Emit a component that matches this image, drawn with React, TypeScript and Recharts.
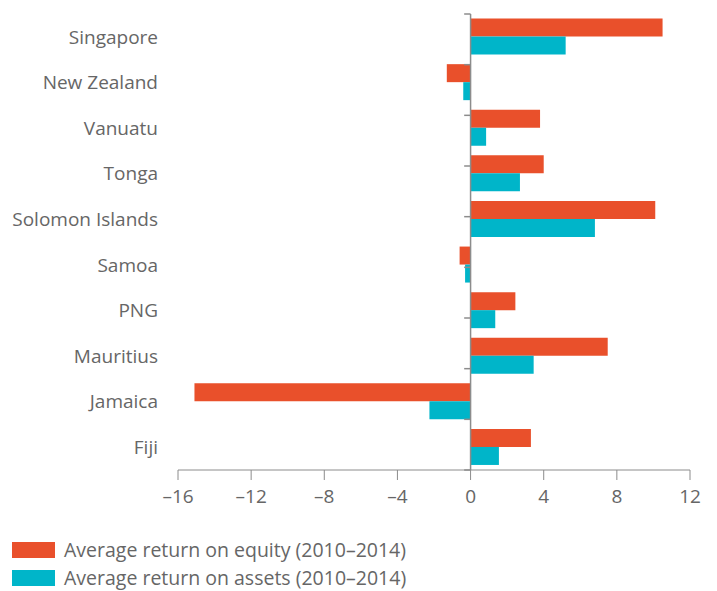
import React from 'react'
import {
  BarChart,
  Bar,
  XAxis,
  YAxis,
  ReferenceLine,
} from 'recharts'

const countries = [
  'Singapore',
  'New Zealand',
  'Vanuatu',
  'Tonga',
  'Solomon Islands',
  'Samoa',
  'PNG',
  'Mauritius',
  'Jamaica',
  'Fiji',
]
const roe = [10.5, -1.3, 3.8, 4.0, 10.1, -0.6, 2.45, 7.5, -15.1, 3.3]
const roa = [5.2, -0.4, 0.85, 2.7, 6.8, -0.3, 1.35, 3.45, -2.25, 1.55]
const xTicks = [-16, -12, -8, -4, 0, 4, 8, 12]

const EQUITY = '#E9502B'
const ASSETS = '#00B5C9'
const TEXT = '#666666'
const AXIS = '#8c8c8c'
const FONT = '"Open Sans", Lato, sans-serif'

const data = countries.map((name, i) => ({ name, roe: roe[i], roa: roa[i] }))
// band boundaries for the little ticks on the zero line
const boundaries = countries.map((_, i) => i).concat([countries.length])

const fmt = (v: number) => (v < 0 ? '\u2013' + Math.abs(v) : String(v))

export default function App() {
  return (
    <div style={{ position: 'absolute', left: 0, top: 0, width: 717, height: 591, background: '#fff', fontFamily: FONT }}>
      <BarChart
        width={717}
        height={520}
        data={data}
        layout="vertical"
        margin={{ top: 14, right: 27, bottom: 0, left: 0 }}
        barCategoryGap="10%"
        barGap={0}
      >
        <XAxis
          type="number"
          domain={[-16, 12]}
          ticks={xTicks}
          tickFormatter={fmt}
          height={50}
          stroke={AXIS}
          tickSize={10}
          tickMargin={10}
          tick={{ fill: TEXT, fontSize: 19, fontFamily: FONT }}
        />
        <YAxis
          type="category"
          dataKey="name"
          width={178}
          axisLine={false}
          tickLine={false}
          tickMargin={14}
          tick={{ fill: TEXT, fontSize: 19, fontFamily: FONT }}
        />
        <YAxis yAxisId="band" type="number" domain={[0, 10]} hide reversed />
        <Bar dataKey="roe" fill={EQUITY} isAnimationActive={false} />
        <Bar dataKey="roa" fill={ASSETS} isAnimationActive={false} />
        <ReferenceLine x={0} stroke={AXIS} strokeWidth={1.5} />
        {boundaries.map((b) => (
          <ReferenceLine
            key={b}
            yAxisId="band"
            segment={[{ x: -0.35, y: b }, { x: 0, y: b }]}
            stroke={AXIS}
            strokeWidth={1.5}
          />
        ))}
      </BarChart>
      <div style={{ position: 'absolute', left: 12, top: 536, color: TEXT, fontSize: 19.5, lineHeight: '28px' }}>
        <div style={{ display: 'flex', alignItems: 'center' }}>
          <span style={{ display: 'inline-block', width: 43, height: 16, background: EQUITY, marginRight: 9 }} />
          Average return on equity (2010–2014)
        </div>
        <div style={{ display: 'flex', alignItems: 'center' }}>
          <span style={{ display: 'inline-block', width: 43, height: 16, background: ASSETS, marginRight: 9 }} />
          Average return on assets (2010–2014)
        </div>
      </div>
    </div>
  )
}
